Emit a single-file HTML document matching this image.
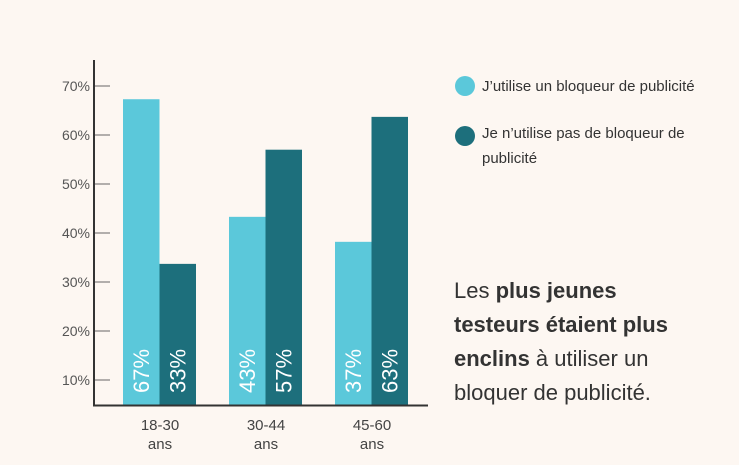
<!DOCTYPE html>
<html><head><meta charset="utf-8"><style>
body{margin:0;background:#fdf7f2;width:739px;height:465px;overflow:hidden;font-family:"Liberation Sans",sans-serif}
svg{position:absolute;left:0;top:0}
.lg{position:absolute;font-size:15px;color:#333;line-height:25px;white-space:nowrap}
.note{position:absolute;left:454px;top:274px;font-size:22px;line-height:34px;color:#333;white-space:nowrap}
</style></head><body>
<svg width="739" height="465" id="chart"></svg>
<div class="lg" style="left:482px;top:74px">J’utilise un bloqueur de publicité</div>
<div class="lg" style="left:482px;top:121px">Je n’utilise pas de bloqueur de<br>publicité</div>
<div class="note">Les <b>plus jeunes</b><br><b>testeurs étaient plus</b><br><b>enclins</b> à utiliser un<br>bloquer de publicité.</div>
<script>
const categories=["18-30","30-44","45-60"];
const seriesUse=[67.3,43.3,38.2];
const seriesNo=[33.7,57,63.7];
const labelsUse=["67%","43%","37%"];
const labelsNo=["33%","57%","63%"];
const ticks=[10,20,30,40,50,60,70];
const svg=document.getElementById('chart');
const NS="http://www.w3.org/2000/svg";
const y=v=>380-(v-10)*4.9;
const groupX=i=>123+i*106;
function mk(t,a){const e=document.createElementNS(NS,t);for(const k in a)e.setAttribute(k,a[k]);svg.appendChild(e);return e;}
ticks.forEach(t=>{
 const l=mk('line',{x1:94,x2:110,y1:y(t),y2:y(t),stroke:'#666','stroke-width':1});
 
 
 const tx=mk('text',{x:90,y:y(t)+5,'text-anchor':'end','font-size':14,fill:'#555','font-family':'Liberation Sans'});
 tx.textContent=t+'%';
 
 
});
categories.forEach((c,i)=>{
 const x0=groupX(i);
 [[seriesUse,labelsUse,'#5bc8da',0],[seriesNo,labelsNo,'#1d6f7c',36.5]].forEach(([s,lb,col,off],j)=>{
  const r=mk('rect',{x:x0+off,y:y(s[i]),width:36.5,height:405-y(s[i]),fill:col});
  
  
  const cx=x0+off+18.5;
  const t=mk('text',{x:cx,y:393,transform:`rotate(-90 ${cx} 393)`,'font-size':22,fill:'#fff','font-family':'Liberation Sans','dominant-baseline':'central'});
  t.textContent=lb[i];
  
  
 });
 const t1=mk('text',{x:x0+37,y:430,'text-anchor':'middle','font-size':15,fill:'#444','font-family':'Liberation Sans'});
 t1.textContent=c;
 
 
 const t2=mk('text',{x:x0+37,y:449,'text-anchor':'middle','font-size':15,fill:'#444','font-family':'Liberation Sans'});
 t2.textContent='ans';
 
 
});
const ya=mk('line',{x1:94,x2:94,y1:60,y2:406,stroke:'#333','stroke-width':2});


const xa=mk('line',{x1:93,x2:428,y1:405.5,y2:405.5,stroke:'#333','stroke-width':2});


const c1=mk('circle',{cx:465,cy:86,r:10,fill:'#5bc8da'});


const c2=mk('circle',{cx:465,cy:136,r:10,fill:'#1d6f7c'});


</script>
</body></html>
